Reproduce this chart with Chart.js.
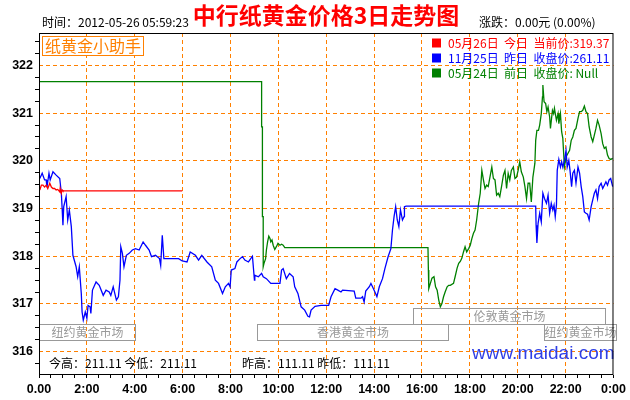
<!DOCTYPE html>
<html>
<head>
<meta charset="utf-8">
<title>中行纸黄金价格3日走势图</title>
<script src="https://cdn.jsdelivr.net/npm/chart.js@4.4.1/dist/chart.umd.min.js"></script>
<style>
  html, body { margin: 0; padding: 0; background: #fff; }
</style>
</head>
<body>
<canvas id="gold-chart" width="630" height="400"></canvas>
<script>
// time axis in minutes: 0 = 0:00, 1440 = next 0:00
const hourLabels = ['0.00', '2:00', '4:00', '6:00', '8:00', '10:00', '12:00',
    '14:00', '16:00', '18:00', '20:00', '22:00', '0:00'];
const priceTicks = [316, 317, 318, 319, 320, 321, 322];

// 05月26日 今日
const todayTimes = [2, 6, 10, 14, 18, 22, 27, 31, 35, 39, 43, 47, 52, 53, 56, 58, 60, 359];
const todayPrices = [319.39, 319.49, 319.49, 319.45, 319.49, 319.42, 319.53, 319.45, 319.42,
    319.42, 319.39, 319.40, 319.35, 319.42, 319.32, 319.39, 319.37, 319.37];

// 11月25日 昨日
const yesterdayTimes = [
    2, 8, 14, 18, 20, 25, 28, 35, 43, 52,
    56, 58, 60, 62, 68, 72, 76, 81, 85, 93,
    97, 101, 106, 108, 111, 116, 120, 123, 128, 130,
    134, 143, 151, 161, 168, 176, 180, 186, 194, 199,
    203, 205, 209, 213, 219, 226, 234, 242, 251, 261,
    267, 276, 282, 292, 302, 305, 309, 313, 325, 350,
    359, 371, 379, 392, 400, 408, 421, 433, 442, 450,
    460, 467, 475, 479,
    482, 491, 496, 504, 510, 516, 525, 535, 540, 541,
    550, 558, 562, 570, 581, 599, 604, 608, 612, 620,
    628, 637, 641, 649, 653, 657, 666, 674, 678, 682,
    692, 707, 726, 732, 742, 749, 757, 761, 790, 794,
    807, 811, 815, 819, 828, 832, 836, 842, 847, 853,
    861, 867, 875, 882, 886, 890, 894, 898, 902, 906,
    911, 915, 916, 920,
    1245, 1246, 1248, 1251, 1255, 1259, 1263, 1267, 1272, 1276,
    1280, 1284, 1288, 1291, 1294, 1297, 1299, 1303, 1307, 1310,
    1313, 1317, 1321, 1324, 1328, 1331, 1335, 1338, 1342, 1346,
    1351, 1355, 1359, 1363, 1367, 1371, 1375, 1379, 1384, 1388,
    1392, 1396, 1400, 1404, 1409, 1413, 1417, 1421, 1425, 1429,
    1433, 1438];
const yesterdayPrices = [
    319.63, 319.74, 319.60, 319.60, 319.45, 319.74, 319.60, 319.77, 319.70, 319.63,
    319.32, 319.00, 318.65, 319.04, 319.25, 318.76, 318.97, 318.62, 318.02, 317.78,
    317.57, 317.78, 317.22, 316.83, 316.66, 316.83, 316.70, 316.97, 316.94, 316.80,
    317.29, 317.46, 317.39, 317.18, 317.29, 317.25, 317.18, 317.36, 317.08, 317.15,
    317.50, 318.20, 318.06, 317.78, 318.02, 318.06, 318.13, 318.16, 318.13, 318.30,
    318.23, 318.13, 317.99, 318.02, 317.95, 317.81, 318.44, 317.95, 317.95, 317.95,
    317.90, 317.88, 318.09, 318.02, 317.92, 318.02, 317.88, 317.78, 317.50, 317.43,
    317.22, 317.36, 317.43, 317.36,
    317.71, 317.74, 317.88, 317.95, 317.99, 317.92, 317.88, 318.00, 317.50, 317.60,
    317.57, 317.64, 317.57, 317.53, 317.43, 317.43, 317.43, 317.71, 317.74, 317.53,
    317.64, 317.57, 317.36, 317.22, 317.08, 316.94, 316.87, 316.74, 316.73, 316.87,
    316.95, 316.97, 316.97, 317.15, 317.32, 317.29, 317.25, 317.29, 317.27, 317.12,
    317.12, 317.15, 317.04, 317.27, 317.36, 317.43, 317.36, 317.25, 317.15, 317.36,
    317.53, 317.74, 317.99, 318.16, 318.55, 318.83, 319.04, 318.76, 318.62, 318.97,
    318.76, 318.83, 319.04, 319.05,
    319.05, 318.65, 318.28, 318.69, 318.90, 318.72, 319.32, 319.21, 319.11, 319.28,
    318.90, 319.11, 318.97, 319.07, 318.83, 319.07, 319.80, 320.03, 319.87, 319.98,
    319.87, 320.01, 320.22, 319.87, 320.01, 319.80, 319.46, 319.74, 319.80, 319.53,
    319.87, 319.74, 319.46, 319.25, 318.93, 318.90, 318.88, 318.76, 319.04, 319.18,
    319.32, 319.39, 319.21, 319.46, 319.53, 319.42, 319.49, 319.56, 319.49, 319.60,
    319.63, 319.46];

// 05月24日 前日
const beforeTimes = [
    0, 558, 558, 560, 560, 562, 562, 564, 568, 570,
    573, 576, 579, 581, 584, 587, 591, 595, 599, 604,
    608, 612, 616, 975, 976, 977, 981, 985, 990, 994,
    998, 1002, 1006, 1010, 1014, 1018, 1023, 1027, 1031, 1039,
    1043, 1048, 1052, 1056, 1060, 1064, 1068, 1072, 1077, 1081,
    1085, 1089, 1093, 1097, 1102, 1106, 1110, 1114, 1118, 1122,
    1126, 1135, 1139, 1143, 1147, 1151, 1155, 1160, 1164, 1168,
    1172, 1176, 1180, 1184, 1189, 1193, 1197, 1201, 1205, 1209,
    1214, 1218, 1222, 1226, 1230, 1234, 1238, 1243, 1245, 1248,
    1252, 1255, 1259, 1262, 1263, 1266, 1270, 1273, 1276, 1280,
    1282, 1287, 1290, 1292, 1297, 1301, 1303, 1307, 1310, 1313,
    1317, 1321, 1326, 1330, 1334, 1338, 1342, 1346, 1351, 1355,
    1359, 1363, 1367, 1371, 1375, 1379, 1384, 1388, 1392, 1396,
    1400, 1404, 1409, 1413, 1417, 1421, 1425, 1429, 1433, 1438];
const beforePrices = [
    321.66, 321.66, 320.71, 320.71, 318.83, 318.83, 317.78, 317.85, 317.95, 318.13,
    318.30, 318.42, 318.37, 318.30, 318.34, 318.23, 318.14, 318.20, 318.27, 318.23,
    318.25, 318.23, 318.18, 318.18, 317.71, 317.32, 317.43, 317.54, 317.57, 317.36,
    317.29, 317.08, 316.94, 317.01, 317.15, 317.25, 317.36, 317.39, 317.39, 317.43,
    317.57, 317.75, 317.85, 317.89, 317.96, 318.09, 318.20, 318.09, 318.16, 318.23,
    318.37, 318.48, 318.55, 318.76, 319.11, 319.32, 319.80, 319.60, 319.42, 319.49,
    319.46, 319.87, 319.63, 319.60, 319.28, 319.32, 319.25, 319.49, 319.70, 319.80,
    319.42, 319.74, 319.60, 319.80, 319.87, 319.63, 319.66, 319.80, 319.98, 319.77,
    319.66, 319.46, 319.21, 319.53, 319.53, 319.14, 319.66, 319.95, 320.43, 320.64,
    320.64, 320.75, 320.99, 321.34, 321.59, 321.24, 321.20, 321.03, 321.13, 320.92,
    320.68, 321.06, 320.99, 321.10, 320.85, 320.99, 320.78, 320.99, 320.61, 320.47,
    319.87, 320.08, 320.16, 320.22, 320.43, 320.50, 320.64, 320.68, 320.89, 321.03,
    321.03, 321.06, 321.15, 321.03, 320.99, 320.71, 320.50, 320.40, 320.54, 320.68,
    320.85, 320.75, 320.57, 320.36, 320.26, 320.29, 320.12, 320.05, 320.03, 320.05];

// legend rows
const legendDates = ['05月26日', '11月25日', '05月24日'];
const legendDays = ['今日', '昨日', '前日'];
const legendKinds = ['当前价', '收盘价', '收盘价'];
const legendValues = ['319.37', '261.11', ' Null'];

// market sessions (minutes)
const marketNames = ['纽约黄金市场', '香港黄金市场', '伦敦黄金市场', '纽约黄金市场'];
const marketStart = [0, 546, 938, 1267];
const marketEnd = [241, 1026, 1418, 1446];

const updateTime = '2012-05-26 05:59:23';
const change = '0.00元 (0.00%)';
const todayHigh = '211.11', todayLow = '211.11';
const yesterdayHigh = '111.11', yesterdayLow = '111.11';

const GRID = '#ff8000';
const CJK = '"Noto Sans CJK SC", sans-serif';
const AXIS_FONT = { family: '"Liberation Sans", Arial, sans-serif', size: 12.5, weight: 'bold' };
const seriesColors = ['#ff0000', '#0000ff', '#008000'];

function toPoints(times, prices) {
    return times.map((t, i) => ({ x: t, y: prices[i] }));
}

// titles, legend, market boxes and notes
const overlay = {
    id: 'overlay',
    afterDraw(chart) {
        const { ctx, chartArea: a, scales: { x } } = chart;
        ctx.save();
        ctx.textBaseline = 'middle';

        // header
        ctx.fillStyle = '#000';
        ctx.textAlign = 'left';
        ctx.font = '12px ' + CJK;
        ctx.fillText('时间：' + updateTime, 42, 22);
        ctx.fillText('涨跌：' + change, 479, 22);
        ctx.fillStyle = '#ff0000';
        ctx.textAlign = 'center';
        ctx.font = 'bold 23px ' + CJK;
        ctx.fillText('中行纸黄金价格3日走势图', 326, 15);

        // helper label
        ctx.fillStyle = '#fff';
        ctx.fillRect(42.5, 36.5, 101, 19);
        ctx.strokeStyle = GRID;
        ctx.lineWidth = 1;
        ctx.strokeRect(42.5, 36.5, 101, 19);
        ctx.fillStyle = GRID;
        ctx.font = '16px ' + CJK;
        ctx.fillText('纸黄金小助手', 93, 46);

        // legend
        ctx.textAlign = 'left';
        ctx.font = '12px ' + CJK;
        legendDates.forEach((d, i) => {
            const y = 43 + i * 15;
            ctx.fillStyle = seriesColors[i];
            ctx.fillRect(432, y - 4.5, 9, 9);
            ctx.fillText(d + '  ' + legendDays[i] + '  ' + legendKinds[i] + ':' + legendValues[i], 448, y);
        });

        // market sessions, overlapping boxes move up one row
        const rowEnds = [];
        ctx.lineWidth = 1;
        ctx.font = '12px ' + CJK;
        ctx.textAlign = 'center';
        marketNames.forEach((name, i) => {
            let row = 0;
            while (rowEnds[row] !== undefined && rowEnds[row] > marketStart[i]) row++;
            rowEnds[row] = marketEnd[i];
            const x0 = Math.round(x.getPixelForValue(marketStart[i])) + 0.5;
            const x1 = Math.round(x.getPixelForValue(marketEnd[i])) + 0.5;
            const top = a.bottom - 50.5 - row * 16;
            ctx.strokeStyle = '#999';
            ctx.strokeRect(x0, top, x1 - x0, 16);
            ctx.fillStyle = '#999';
            ctx.fillText(name, (x0 + x1) / 2, top + 8);
        });

        // bottom notes
        ctx.fillStyle = '#000';
        ctx.textAlign = 'left';
        ctx.font = '12px ' + CJK;
        ctx.fillText('今高：' + todayHigh + ' 今低：' + todayLow, 49, 363);
        ctx.fillText('昨高：' + yesterdayHigh + ' 昨低：' + yesterdayLow, 242, 363);
        ctx.fillStyle = '#2f3fe6';
        ctx.font = '19px "Liberation Sans", Arial, sans-serif';
        ctx.fillText('www.maidai.com', 472, 354);

        // frame
        ctx.strokeStyle = '#000';
        ctx.strokeRect(a.left + 0.5, a.top + 0.5, a.right - a.left - 1, a.bottom - a.top - 1);
        ctx.restore();
    }
};

const ctx = document.getElementById('gold-chart').getContext('2d');
const goldChart = new Chart(ctx, {
    type: 'line',
    data: {
        datasets: [{
            label: '今日',
            data: toPoints(todayTimes, todayPrices),
            borderColor: seriesColors[0],
            order: 0
        }, {
            label: '昨日',
            data: toPoints(yesterdayTimes, yesterdayPrices),
            borderColor: seriesColors[1],
            order: 1
        }, {
            label: '前日',
            data: toPoints(beforeTimes, beforePrices),
            borderColor: seriesColors[2],
            order: 2
        }]
    },
    options: {
        responsive: false,
        animation: false,
        devicePixelRatio: 1,
        layout: { padding: { top: 33, right: 13, bottom: 0, left: 0 } },
        elements: {
            point: { radius: 0 },
            line: { borderWidth: 1.3, tension: 0 }
        },
        plugins: {
            legend: { display: false },
            tooltip: { enabled: false }
        },
        scales: {
            x: {
                type: 'linear',
                min: 0,
                max: 1440,
                afterBuildTicks: (scale) => {
                    const ticks = [];
                    for (let m = 0; m <= 1440; m += 30) ticks.push({ value: m });
                    scale.ticks = ticks;
                },
                afterFit: (scale) => { scale.height = 25; },
                ticks: {
                    autoSkip: false,
                    maxRotation: 0,
                    minRotation: 0,
                    padding: 4,
                    color: '#000',
                    font: AXIS_FONT,
                    callback: (v) => (v % 120 === 0 ? hourLabels[v / 120] : '')
                },
                grid: {
                    color: (c) => {
                        const v = c.tick ? c.tick.value : 0;
                        return v % 120 === 0 && v > 0 && v < 1440 ? GRID : 'transparent';
                    },
                    tickColor: '#000',
                    tickLength: 3,
                    tickBorderDash: [],
                    lineWidth: 1
                },
                border: { display: false, dash: [4, 3] }
            },
            y: {
                type: 'linear',
                min: 315.51,
                max: 322.68,
                afterBuildTicks: (scale) => {
                    const ticks = [];
                    for (let v = 315.75; v <= 322.5; v += 0.25) ticks.push({ value: v });
                    scale.ticks = ticks;
                },
                afterFit: (scale) => { scale.width = 39; },
                ticks: {
                    autoSkip: false,
                    padding: 2,
                    color: '#000',
                    font: AXIS_FONT,
                    callback: (v) => (priceTicks.includes(v) ? String(v) : '')
                },
                grid: {
                    color: (c) => (c.tick && priceTicks.includes(c.tick.value) ? GRID : 'transparent'),
                    tickColor: (c) => (c.tick && priceTicks.includes(c.tick.value) ? 'transparent' : '#000'),
                    tickLength: 4,
                    tickBorderDash: [],
                    lineWidth: 1
                },
                border: { display: false, dash: [4, 3] }
            }
        }
    },
    plugins: [overlay]
});
</script>
</body>
</html>
